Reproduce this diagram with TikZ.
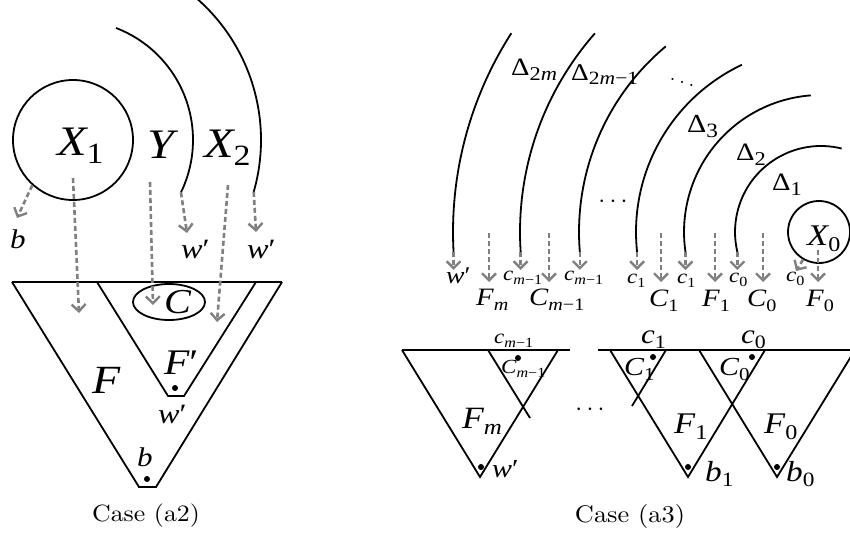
\documentclass[tikz,border=0pt]{standalone}
\usepackage{fontspec}
\usepackage{graphicx}
\usetikzlibrary{arrows.meta,calc,shapes.geometric}
\newfontfamily\tms{Liberation Serif}
\newfontfamily\capfont{lmroman10-regular}[Extension=.otf]
\newcommand\mi[1]{{\tms\itshape #1}}
\newcommand\lsub[1]{\raisebox{-0.2em}{\scalebox{0.7}{\tms #1}}}
\newcommand\dsub[1]{\raisebox{-0.2em}{\scalebox{0.78}{\tms #1}}}
\newcommand\hs[1]{\scalebox{1.15}[1]{#1}}
\newcommand\fs[1]{\fontsize{#1}{#1}\selectfont}
\tikzset{
  ln/.style={line width=1.8pt, draw=black},
  thk/.style={line width=2.6pt, draw=black},
  darr/.style={draw=gray, line width=2.6pt, dash pattern=on 5pt off 3pt,
    -{Straight Barb[length=7pt,width=14pt,line width=2.4pt]}},
  lbl/.style={anchor=base west, inner sep=0pt},
  circ/.style={circle, draw=black, line width=1.8pt, inner sep=0pt},
  dotn/.style={circle, fill=black, inner sep=0pt, minimum size=6pt},
}
\begin{document}
\begin{tikzpicture}[x=1pt,y=-1pt]
\useasboundingbox (0,0) rectangle (850,535);
\clip (0,0) rectangle (850,535);

% ================= Case (a2) =================
\coordinate (O1) at (73,140);
\node[circ, minimum size=120pt] (cX1) at (O1) {};
\draw[ln] (O1) ++(-69:120) arc[start angle=-69, end angle=25.9, radius=120] coordinate (e1);
\draw[ln] (O1) ++(-52:188) arc[start angle=-52, end angle=16, radius=188] coordinate (e2);

% triangles
\draw[ln] (12,282) -- (139,487) -- (156,487) -- (282,282);
\draw[ln] (97,282) -- (168,396) -- (184,396) -- (256,282);
\draw[thk] (12,282) -- (282,282);
\node[ellipse, ln, minimum width=72pt, minimum height=36pt, inner sep=0pt] (ellC) at (169,302) {};
\node[dotn] (dw) at (175,388) {};
\node[dotn] (db) at (147,479) {};

% arrows
\coordinate (tb) at (17,218);
\coordinate (sX1) at (73,178);  \coordinate (tX1) at (79,313);
\coordinate (sY) at (150,182);  \coordinate (tY) at (153,305);
\coordinate (sX2) at (228,185); \coordinate (tX2) at (217,322);
\coordinate (tw1) at (187,233);
\coordinate (tw2) at (256,232);
\draw[darr] (cX1.228) -- (tb);
\draw[darr] (sX1) -- (tX1);
\draw[darr] (sY) -- (tY);
\draw[darr] (sX2) -- (tX2);
\draw[darr] (e1) -- (tw1);
\draw[darr] (e2) -- (tw2);

% labels
\node[lbl, font=\fs{42}] (lX1) at (57,155) {\hs{\mi{X}\lsub{1}}};
\node[lbl, font=\fs{42}] (lY) at (147,158) {\hs{\mi{Y}}};
\node[lbl, font=\fs{42}] (lX2) at (204,157) {\hs{\mi{X}\lsub{2}}};
\node[lbl, font=\fs{27}] (lb1) at (10,248) {\hs{\mi{b}}};
\node[lbl, font=\fs{28}] (lw1) at (181,258) {\hs{\mi{w}{\tms ′}}};
\node[lbl, font=\fs{28}] (lw2) at (247,258) {\hs{\mi{w}{\tms ′}}};
\node[lbl, font=\fs{35}] (lC) at (164,313) {\hs{\mi{C}}};
\node[lbl, font=\fs{36}] (lFp) at (164,374) {\hs{\mi{F}{\tms ′}}};
\node[lbl, font=\fs{40}] (lF) at (92,393) {\hs{\mi{F}}};
\node[lbl, font=\fs{28}] (lw3) at (158,423) {\hs{\mi{w}{\tms ′}}};
\node[lbl, font=\fs{27}] (lb2) at (137,466) {\hs{\mi{b}}};
\node[anchor=base, inner sep=0pt, font=\capfont\fs{23.5}] (cap1) at (146,521) {\scalebox{1.1}[1]{Case (a2)}};

% ================= Case (a3) =================
\coordinate (O2) at (821,232);
\draw[ln] (O2) ++(-147.3:368) arc[start angle=-147.3, end angle=-183.1, radius=368] coordinate (eA);
\draw[ln] (O2) ++(-138.7:301) arc[start angle=-138.7, end angle=-183.8, radius=301] coordinate (eB);
\draw[ln] (O2) ++(-129.9:242) arc[start angle=-129.9, end angle=-184.7, radius=242] coordinate (eC);
\draw[ln] (O2) ++(-115.3:185) arc[start angle=-115.3, end angle=-186.2, radius=185] coordinate (eD);
\draw[ln] (O2) ++(-94.3:137) arc[start angle=-94.3, end angle=-188.4, radius=137] coordinate (eE);
\draw[ln] (O2) ++(-76.1:86) arc[start angle=-76.1, end angle=-193.5, radius=86] coordinate (eF);
\node[circ, minimum size=62pt] (cX0) at (819,232) {};

\foreach \e in {A,B,C,D,E,F}{
  \coordinate (t\e) at ($(e\e)+(0,18)$);
  \draw[darr] (e\e) -- (t\e);
}
% independent arrows
\foreach \n/\x in {Fm/489, Cm/549, C1/661, F1/715, C0/763}{
  \coordinate (s\n) at (\x,233);
  \coordinate (t\n) at (\x,282);
  \draw[darr] (s\n) -- (t\n);
}
\coordinate (sF0) at (818,250); \coordinate (tF0) at (818,282);
\draw[darr] (sF0) -- (tF0);
\coordinate (tc0) at (796,271);
\draw[darr] (cX0.240) -- (tc0);

% arc labels
\node[lbl, font=\fs{25}] (d2m) at (511,75) {\hs{{\tms Δ}\dsub{2\mi{m}}}};
\node[lbl, font=\fs{24}] (d2m1) at (571,80) {\hs{{\tms Δ}\dsub{2\mi{m}−1}}};
\node[font=\fs{26}, inner sep=0pt] (ddots) at (682,79) {$\ddots$};
\node[lbl, font=\fs{26}] (d3) at (687,132) {\hs{{\tms Δ}\dsub{3}}};
\node[lbl, font=\fs{25}] (d2) at (736,160) {\hs{{\tms Δ}\dsub{2}}};
\node[lbl, font=\fs{25}] (d1) at (772,190) {\hs{{\tms Δ}\dsub{1}}};
\node[font=\fs{26}, inner sep=0pt] (hdots) at (613,202) {$\cdots$};
\node[lbl, font=\fs{30}] (lX0) at (807,245) {\hs{\mi{X}\lsub{0}}};

% row labels
\node[lbl, font=\fs{24}] (rw) at (446,283) {\hs{\mi{w}{\tms ′}}};
\node[lbl, font=\fs{20}] (rc1) at (503,280) {\hs{\mi{c}\lsub{\mi{m}−1}}};
\node[lbl, font=\fs{20}] (rc2) at (564,280) {\hs{\mi{c}\lsub{\mi{m}−1}}};
\node[lbl, font=\fs{20}] (rc3) at (627,283) {\hs{\mi{c}\lsub{1}}};
\node[lbl, font=\fs{20}] (rc4) at (677,283) {\hs{\mi{c}\lsub{1}}};
\node[lbl, font=\fs{20}] (rc5) at (729,282) {\hs{\mi{c}\lsub{0}}};
\node[lbl, font=\fs{20}] (rc6) at (786,281) {\hs{\mi{c}\lsub{0}}};
\node[lbl, font=\fs{25}] (rFm) at (476,305) {\hs{\mi{F}\lsub{\mi{m}}}};
\node[lbl, font=\fs{25}] (rCm) at (529,305) {\hs{\mi{C}\lsub{\mi{m}−1}}};
\node[lbl, font=\fs{25}] (rC1) at (649,306) {\hs{\mi{C}\lsub{1}}};
\node[lbl, font=\fs{25}] (rF1) at (702,306) {\hs{\mi{F}\lsub{1}}};
\node[lbl, font=\fs{25}] (rC0) at (747,306) {\hs{\mi{C}\lsub{0}}};
\node[lbl, font=\fs{25}] (rF0) at (806,306) {\hs{\mi{F}\lsub{0}}};

% lower triangles
\draw[ln] (402,350) -- (570,350);
\draw[ln] (598,350) -- (850,350);
\draw[ln] (402,350) -- (480,477) -- (558,350);
\draw[ln] (488,350) -- (530,418);
\draw[ln] (610,350) -- (688,477) -- (765,350);
\draw[ln] (666,350) -- (632,406);
\draw[ln] (699,350) -- (777,477) -- (855,350);
\node[dotn] (dCm) at (518,358) {};
\node[dotn] (dwm) at (481,467) {};
\node[dotn] (dC1) at (653,357) {};
\node[dotn] (dC0) at (752,357) {};
\node[dotn] (db1) at (688,467) {};
\node[dotn] (db0) at (777,467) {};

\node[lbl, font=\fs{20}] (tcm) at (494,343) {\hs{\mi{c}\lsub{\mi{m}−1}}};
\node[lbl, font=\fs{20}] (tCm) at (501,373) {\hs{\mi{C}\lsub{\mi{m}−1}}};
\node[lbl, font=\fs{31}] (tFm) at (462,428) {\hs{\mi{F}\lsub{\mi{m}}}};
\node[lbl, font=\fs{26}] (tw) at (492,477) {\hs{\mi{w}{\tms ′}}};
\node[font=\fs{26}, inner sep=0pt] (mdots) at (590,410) {$\cdots$};
\node[lbl, font=\fs{27}] (tc1) at (641,343) {\hs{\mi{c}\lsub{1}}};
\node[lbl, font=\fs{27}] (tc0) at (741,343) {\hs{\mi{c}\lsub{0}}};
\node[lbl, font=\fs{26}] (tC1) at (624,375) {\hs{\mi{C}\lsub{1}}};
\node[lbl, font=\fs{26}] (tC0) at (719,375) {\hs{\mi{C}\lsub{0}}};
\node[lbl, font=\fs{30}] (tF1) at (674,433) {\hs{\mi{F}\lsub{1}}};
\node[lbl, font=\fs{30}] (tF0) at (764,433) {\hs{\mi{F}\lsub{0}}};
\node[lbl, font=\fs{29}] (tb1) at (705,481) {\hs{\mi{b}\lsub{1}}};
\node[lbl, font=\fs{29}] (tb0) at (786,481) {\hs{\mi{b}\lsub{0}}};
\node[anchor=base, inner sep=0pt, font=\capfont\fs{24}] (cap2) at (630,522) {\scalebox{1.1}[1]{Case (a3)}};
\end{tikzpicture}
\end{document}
